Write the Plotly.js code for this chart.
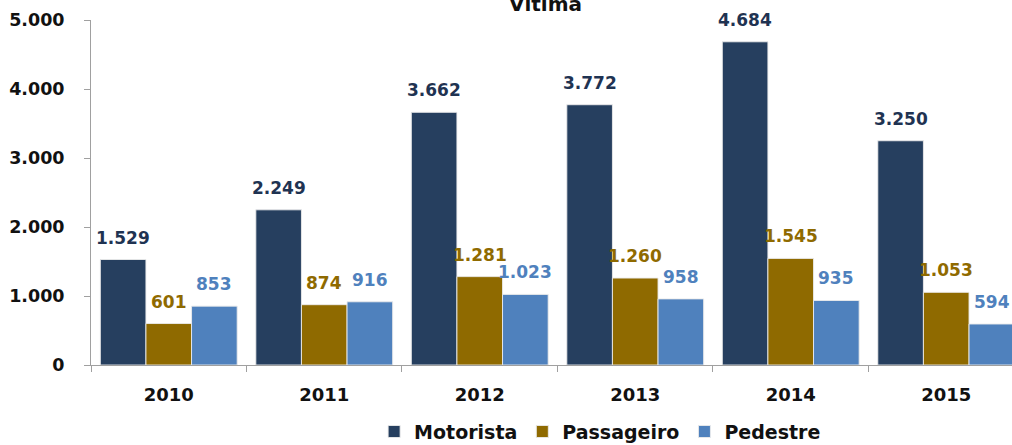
<!DOCTYPE html>
<html>
<head>
<meta charset="utf-8">
<script src="https://cdn.plot.ly/plotly-3.0.1.min.js"></script>
<style>html,body{margin:0;padding:0;background:#fff;}#chart{width:1012px;height:445px;}</style>
</head>
<body>
<div id="chart"></div>
<script>
const years = ['2010', '2011', '2012', '2013', '2014', '2015'];
const motorista = [1529, 2249, 3662, 3772, 4684, 3250];
const passageiro = [601, 874, 1281, 1260, 1545, 1053];
const pedestre = [853, 916, 1023, 958, 935, 594];
const seriesNames = ['Motorista', 'Passageiro', 'Pedestre'];
const yTicks = [0, 1000, 2000, 3000, 4000, 5000];

const barColors = ['#263F5F', '#8F6A00', '#4F81BD'];
const labelColors = ['#1F3352', '#8F6A00', '#4F81BD'];
const font = '"DejaVu Sans", Verdana, sans-serif';
const bargap = 0.12;

const allSeries = [motorista, passageiro, pedestre];
const traces = allSeries.map((vals, i) => ({
  type: 'bar',
  name: seriesNames[i],
  x: years,
  y: vals,
  marker: {color: barColors[i], line: {color: 'rgba(235,235,235,0.9)', width: 1}},
  hoverinfo: 'x+y+name'
}));

const fmt = v => v.toLocaleString('de-DE');
const bw = (1 - bargap) / 3;
const annotations = [];
allSeries.forEach((vals, i) => {
  vals.forEach((v, j) => {
    annotations.push({
      x: j + (i - 1) * bw, y: v, xref: 'x', yref: 'y',
      text: fmt(v), showarrow: false, yanchor: 'middle', yshift: 22,
      font: {family: font, size: 17, color: labelColors[i], weight: 'bold'}
    });
  });
});

const layout = {
  width: 1012, height: 445,
  margin: {l: 91, r: 0, t: 20, b: 80},
  paper_bgcolor: '#fff', plot_bgcolor: '#fff',
  separators: ',.',
  barmode: 'group', bargap: bargap, bargroupgap: 0,
  title: {text: '<b>Vítima</b>', x: 0.539, xanchor: 'center', xref: 'container', y: 0.99, yanchor: 'middle',
          font: {family: font, size: 20, color: '#111'}},
  xaxis: {
    type: 'category', range: [-0.5, 5.423], tickson: 'boundaries',
    ticks: 'outside', ticklen: 6, tickcolor: '#A0A0A0', showline: true, linecolor: '#A0A0A0', linewidth: 1,
    showgrid: false, zeroline: false, ticklabelstandoff: 13,
    tickfont: {family: font, size: 18, color: '#111', weight: 'bold'}
  },
  yaxis: {
    range: [0, 5000], tickvals: yTicks, tickformat: ',d',
    ticks: 'outside', ticklen: 6, tickcolor: '#A0A0A0', showline: true, linecolor: '#A0A0A0', linewidth: 1,
    showgrid: false, zeroline: false, ticklabelstandoff: 16,
    tickfont: {family: font, size: 17.5, color: '#111', weight: 'bold'}
  },
  legend: {
    orientation: 'h', xref: 'container', yref: 'container', x: 0.593, xanchor: 'center', y: 0.03, yanchor: 'middle',
    font: {family: font, size: 19, color: '#111', weight: 'bold'}, itemwidth: 30, tracegroupgap: 0
  },
  showlegend: true,
  annotations: annotations
};

Plotly.newPlot('chart', traces, layout, {displayModeBar: false, staticPlot: true});
</script>
</body>
</html>
